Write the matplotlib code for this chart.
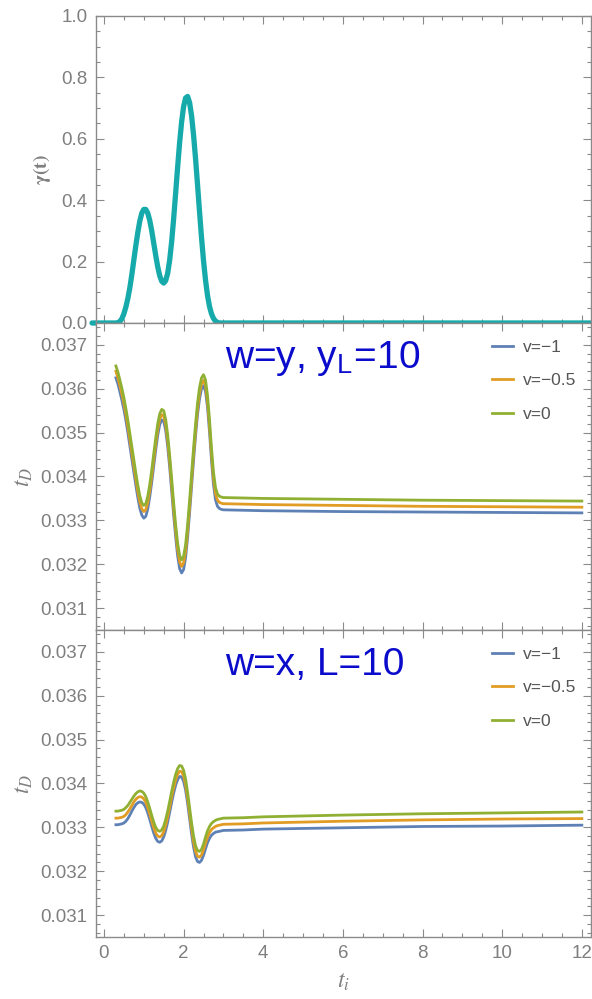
import matplotlib
matplotlib.use("Agg")
import matplotlib.pyplot as plt
from matplotlib.ticker import MultipleLocator

plt.rcParams['font.family'] = ['Liberation Sans', 'DejaVu Sans']
plt.rcParams['mathtext.fontset'] = 'stix'

# gamma(t), top panel
t_gamma = [-0.3, 0.0, 0.30, 0.35, 0.40, 0.45, 0.50, 0.55, 0.60, 0.65, 0.70, 0.75,
           0.80, 0.85, 0.90, 0.95, 1.00, 1.05, 1.10, 1.15, 1.20, 1.25, 1.30, 1.35,
           1.40, 1.45, 1.50, 1.55, 1.60, 1.65, 1.70, 1.75, 1.80, 1.85, 1.90, 1.95,
           2.00, 2.05, 2.10, 2.15, 2.20, 2.25, 2.30, 2.35, 2.40, 2.45, 2.50, 2.55,
           2.60, 2.65, 2.70, 2.75, 2.80, 2.85, 2.90, 6.0, 12.5]
gamma = [0.0, 0.0, 0.0, 0.001, 0.005, 0.014, 0.030, 0.052, 0.080, 0.115, 0.158, 0.205,
         0.252, 0.295, 0.332, 0.358, 0.370, 0.370, 0.358, 0.334, 0.300, 0.260, 0.220,
         0.183, 0.154, 0.136, 0.130, 0.138, 0.162, 0.205, 0.265, 0.340, 0.423, 0.508,
         0.588, 0.655, 0.705, 0.733, 0.738, 0.718, 0.675, 0.612, 0.535, 0.450, 0.362,
         0.278, 0.203, 0.140, 0.090, 0.054, 0.030, 0.015, 0.006, 0.002, 0.0, 0.0, 0.0]

# t_D curves (same time grid for both lower panels)
t_i = [0.30, 0.35, 0.40, 0.45, 0.50, 0.55, 0.60, 0.65, 0.70, 0.75, 0.80, 0.85,
       0.90, 0.95, 1.00, 1.05, 1.10, 1.15, 1.20, 1.25, 1.30, 1.35, 1.40, 1.45,
       1.50, 1.55, 1.60, 1.65, 1.70, 1.75, 1.80, 1.85, 1.90, 1.95, 2.00, 2.05,
       2.10, 2.15, 2.20, 2.25, 2.30, 2.35, 2.40, 2.45, 2.50, 2.55, 2.60, 2.65,
       2.70, 2.75, 2.80, 2.85, 2.90, 2.95, 3.00, 3.5, 4.0, 6.0, 8.0, 10.0, 12.0]
labels = ["v=\u22121", "v=\u22120.5", "v=0"]
colors = ["#5E81B5", "#E19C24", "#8FB032"]

# w=y, y_L=10
wy_0 = [0.03652, 0.03638, 0.03620, 0.03601, 0.03580, 0.03555, 0.03528, 0.03498,
        0.03468, 0.03438, 0.03408, 0.03380, 0.03356, 0.03340, 0.03334, 0.03338,
        0.03355, 0.03382, 0.03415, 0.03452, 0.03488, 0.03520, 0.03543, 0.03553,
        0.03550, 0.03530, 0.03495, 0.03448, 0.03395, 0.03340, 0.03290, 0.03248,
        0.03220, 0.03210, 0.03218, 0.03245, 0.03290, 0.03345, 0.03405, 0.03465,
        0.03520, 0.03568, 0.03603, 0.03625, 0.03632, 0.03620, 0.03585, 0.03530,
        0.03465, 0.03410, 0.03375, 0.03360, 0.03355, 0.03353, 0.03352, 0.03351,
        0.03350, 0.03348, 0.03346, 0.03345, 0.03344]
wy_m05 = [0.03640, 0.03625, 0.03607, 0.03588, 0.03567, 0.03542, 0.03514, 0.03484,
          0.03454, 0.03424, 0.03394, 0.03366, 0.03342, 0.03326, 0.03320, 0.03324,
          0.03341, 0.03368, 0.03401, 0.03438, 0.03475, 0.03507, 0.03531, 0.03541,
          0.03538, 0.03518, 0.03482, 0.03435, 0.03381, 0.03326, 0.03276, 0.03234,
          0.03205, 0.03195, 0.03203, 0.03230, 0.03275, 0.03331, 0.03391, 0.03451,
          0.03506, 0.03555, 0.03590, 0.03612, 0.03619, 0.03607, 0.03571, 0.03516,
          0.03451, 0.03396, 0.03361, 0.03346, 0.03341, 0.03339, 0.03338, 0.03337,
          0.03336, 0.03334, 0.03332, 0.03331, 0.03330]
wy_m1 = [0.03625, 0.03611, 0.03593, 0.03574, 0.03553, 0.03528, 0.03500, 0.03470,
         0.03440, 0.03410, 0.03380, 0.03352, 0.03328, 0.03312, 0.03305, 0.03309,
         0.03326, 0.03354, 0.03387, 0.03424, 0.03461, 0.03494, 0.03518, 0.03529,
         0.03526, 0.03505, 0.03469, 0.03421, 0.03367, 0.03312, 0.03262, 0.03219,
         0.03190, 0.03180, 0.03188, 0.03215, 0.03261, 0.03317, 0.03377, 0.03437,
         0.03493, 0.03542, 0.03577, 0.03600, 0.03607, 0.03594, 0.03558, 0.03502,
         0.03437, 0.03382, 0.03347, 0.03332, 0.03327, 0.03325, 0.03324, 0.03323,
         0.03322, 0.03320, 0.03319, 0.03318, 0.03317]

# w=x, L=10
wx_0 = [0.03337, 0.03337, 0.03338, 0.03339, 0.03341, 0.03345, 0.03350, 0.03357,
        0.03364, 0.03371, 0.03377, 0.03381, 0.03383, 0.03382, 0.03378, 0.03370,
        0.03358, 0.03343, 0.03327, 0.03312, 0.03300, 0.03293, 0.03291, 0.03294,
        0.03303, 0.03318, 0.03337, 0.03359, 0.03382, 0.03403, 0.03421, 0.03434,
        0.03441, 0.03440, 0.03430, 0.03410, 0.03380, 0.03345, 0.03310, 0.03280,
        0.03258, 0.03247, 0.03245, 0.03250, 0.03262, 0.03278, 0.03292, 0.03302,
        0.03309, 0.03313, 0.03316, 0.03318, 0.03319, 0.03320, 0.03321, 0.03322,
        0.03324, 0.03328, 0.03331, 0.03333, 0.03335]
wx_m05 = [0.03321, 0.03321, 0.03322, 0.03323, 0.03325, 0.03329, 0.03335, 0.03342,
          0.03350, 0.03358, 0.03364, 0.03368, 0.03370, 0.03369, 0.03365, 0.03357,
          0.03345, 0.03330, 0.03314, 0.03299, 0.03287, 0.03280, 0.03278, 0.03281,
          0.03290, 0.03305, 0.03324, 0.03346, 0.03369, 0.03390, 0.03408, 0.03421,
          0.03428, 0.03427, 0.03417, 0.03397, 0.03367, 0.03332, 0.03297, 0.03267,
          0.03245, 0.03234, 0.03232, 0.03237, 0.03249, 0.03264, 0.03278, 0.03288,
          0.03295, 0.03299, 0.03302, 0.03304, 0.03305, 0.03306, 0.03307, 0.03308,
          0.03310, 0.03314, 0.03317, 0.03319, 0.03320]
wx_m1 = [0.03306, 0.03306, 0.03307, 0.03308, 0.03310, 0.03314, 0.03320, 0.03328,
         0.03337, 0.03345, 0.03352, 0.03356, 0.03358, 0.03357, 0.03353, 0.03345,
         0.03333, 0.03318, 0.03302, 0.03287, 0.03275, 0.03268, 0.03266, 0.03269,
         0.03278, 0.03293, 0.03312, 0.03334, 0.03357, 0.03378, 0.03396, 0.03409,
         0.03416, 0.03415, 0.03405, 0.03385, 0.03355, 0.03320, 0.03285, 0.03255,
         0.03233, 0.03222, 0.03220, 0.03225, 0.03236, 0.03251, 0.03265, 0.03275,
         0.03282, 0.03286, 0.03289, 0.03290, 0.03291, 0.03292, 0.03293, 0.03294,
         0.03296, 0.03299, 0.03302, 0.03303, 0.03305]

gray = "#7f7f7f"
frame = "#8a8a8a"

fig = plt.figure(figsize=(5.92, 9.99), dpi=100)
W = 592.0
H = 999.0
left, right = 96 / W, 591 / W


def make_ax(top_px, bot_px):
    return fig.add_axes([left, 1 - bot_px / H, right - left, (bot_px - top_px) / H])


ax1 = make_ax(16, 323)
ax2 = make_ax(323, 630)
ax3 = make_ax(630, 937)

for ax in (ax1, ax2, ax3):
    ax.set_xlim(-0.2, 12.23)
    ax.xaxis.set_major_locator(MultipleLocator(2))
    ax.xaxis.set_minor_locator(MultipleLocator(0.5))
    ax.tick_params(which='both', direction='in', top=True, right=True,
                   colors=frame, labelcolor=gray, labelsize=13.5, width=0.8)
    ax.tick_params(which='major', length=6, pad=6)
    ax.tick_params(which='minor', length=3)
    for s in ax.spines.values():
        s.set_color(frame)
        s.set_linewidth(1.0)

ax1.plot(t_gamma, gamma, color="#16AAAA", lw=3.8, solid_capstyle='round', clip_on=False)
ax1.set_ylim(0, 1.0)
ax1.yaxis.set_minor_locator(MultipleLocator(0.05))
ax1.set_yticks([0, 0.2, 0.4, 0.6, 0.8, 1.0])
ax1.set_yticklabels(["0.0", "0.2", "0.4", "0.6", "0.8", "1.0"])
ax1.tick_params(labelbottom=False)
ax1.set_ylabel(r"$\mathbf{\gamma(t)}$", color=gray, fontsize=14, labelpad=6)
ax1.set_xlim(-0.2, 12.23)

for ax, series, title in ((ax2, (wy_m1, wy_m05, wy_0), r"w=y, y$_\mathregular{L}$=10"),
                          (ax3, (wx_m1, wx_m05, wx_0), "w=x, L=10")):
    for vals, c, lab in zip(series, colors, labels):
        ax.plot(t_i, vals, color=c, lw=2.0, label=lab)
    ax.set_ylim(0.0305, 0.0375)
    ax.yaxis.set_minor_locator(MultipleLocator(0.0002))
    ax.set_yticks([0.031, 0.032, 0.033, 0.034, 0.035, 0.036, 0.037])
    ax.set_yticklabels(["0.031", "0.032", "0.033", "0.034", "0.035", "0.036", "0.037"])
    ax.set_ylabel(r"$t_D$", color=gray, fontsize=17, labelpad=4)
    ax.text(0.26, 0.855, title, transform=ax.transAxes, color="#0B0BCC",
            fontsize=28, va='baseline', ha='left')
    leg = ax.legend(loc='upper right', bbox_to_anchor=(0.995, 0.985), frameon=False,
                    fontsize=12.5, handlelength=1.2, handletextpad=0.6,
                    labelspacing=1.05, borderpad=0.2, labelcolor='#555555')

ax2.tick_params(labelbottom=False)
ax3.set_xticks([0, 2, 4, 6, 8, 10, 12])
ax3.set_xlabel(r"$t_i$", color=gray, fontsize=17, labelpad=6)

# blue title cut off by the top edge in the original
fig.text(372 / W, 1.011, "g y", color="#0B0BCC", fontsize=28, va='baseline', ha='left')

fig.savefig("out.png", dpi=100)
